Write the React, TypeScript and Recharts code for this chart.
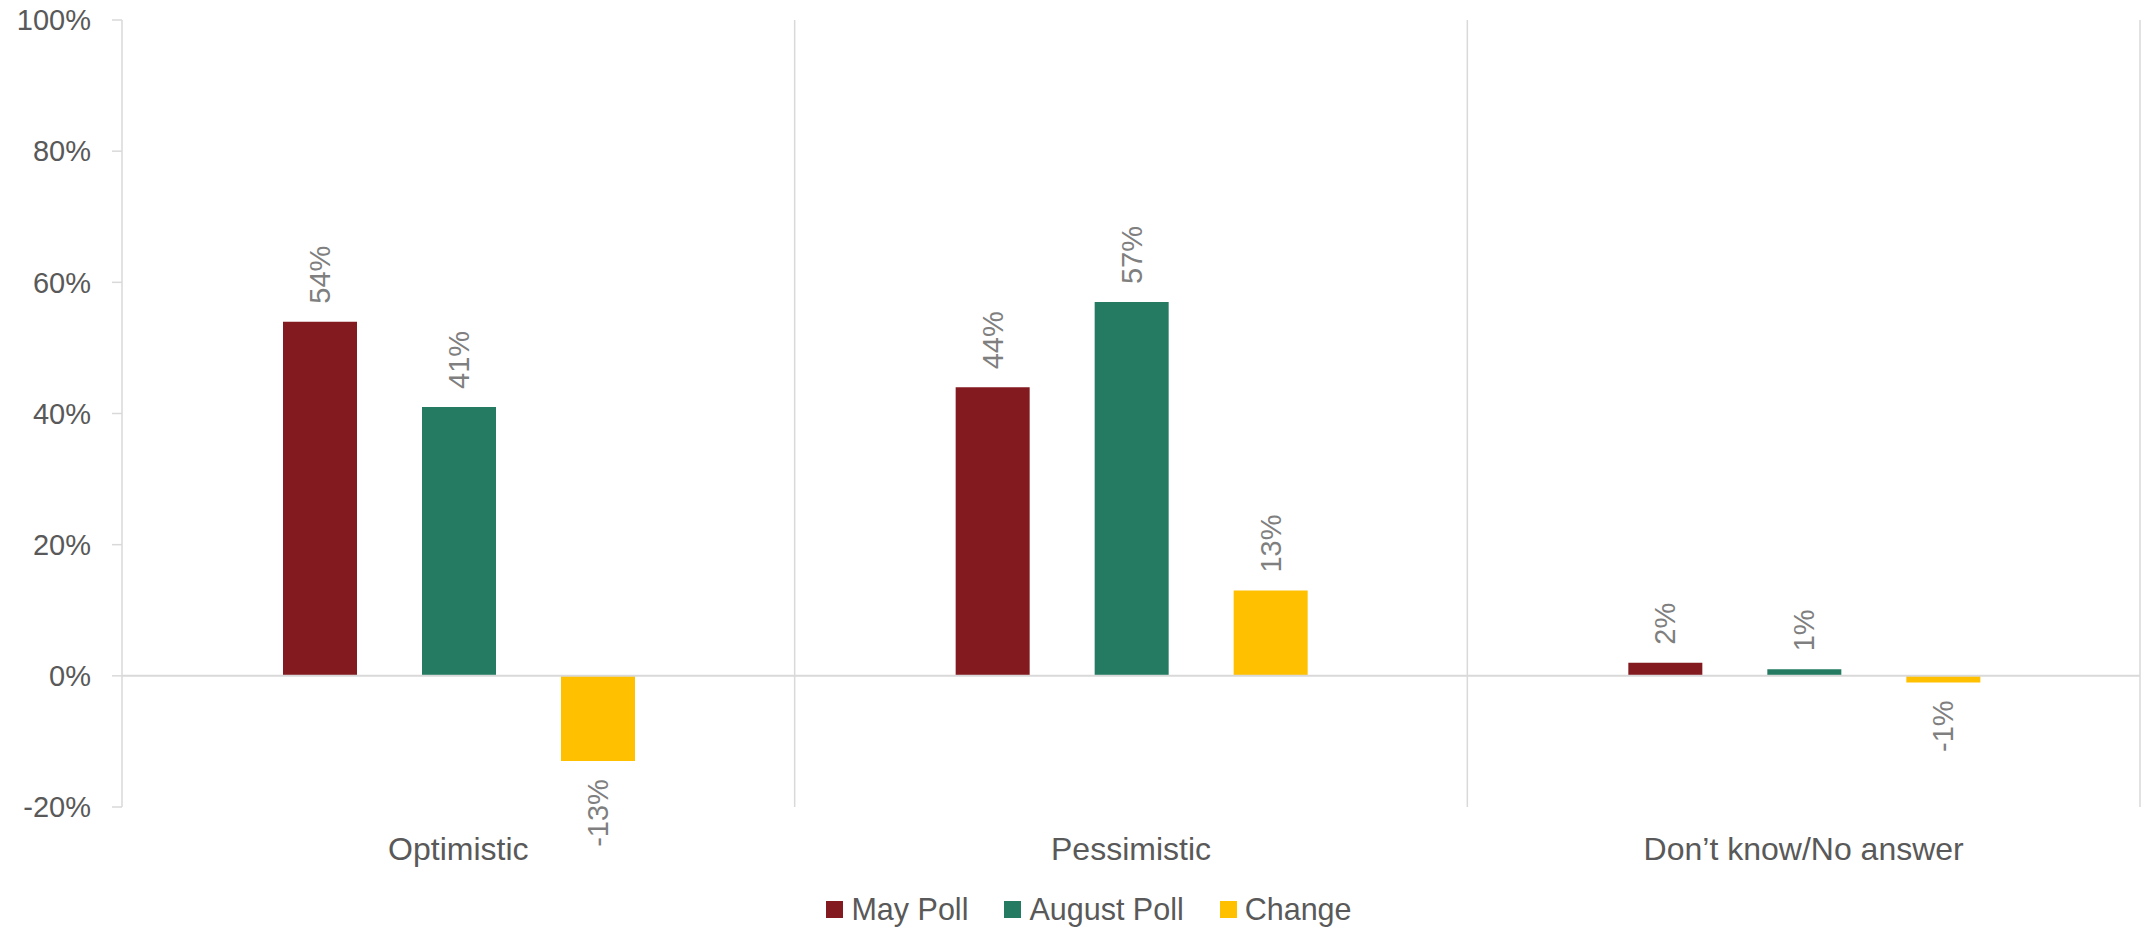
import React from 'react';
import {
  BarChart,
  Bar,
  XAxis,
  YAxis,
  CartesianGrid,
  ReferenceLine,
  Legend,
  LabelList
} from 'recharts';

// Values
const categories = ['Optimistic', 'Pessimistic', 'Don\u2019t know/No answer'];
const mayPoll = [0.54, 0.44, 0.02];
const augustPoll = [0.41, 0.57, 0.01];
const change = [-0.13, 0.13, -0.01];
const yTicks = [-0.2, 0, 0.2, 0.4, 0.6, 0.8, 1];

const seriesMeta = [
  { key: 'may', name: 'May Poll', color: '#831A1F' },
  { key: 'august', name: 'August Poll', color: '#257A62' },
  { key: 'change', name: 'Change', color: '#FFC000' }
];

const chartData = categories.map((name, i) => ({
  name,
  may: mayPoll[i],
  august: augustPoll[i],
  change: change[i]
}));

const FONT = '"Liberation Sans", Arial, sans-serif';
const AXIS_TEXT = '#595959';
const LABEL_TEXT = '#7F7F7F';
const GRID = '#D9D9D9';

const pct = (v: number) => `${Math.round(v * 100)}%`;

// Rotated value label: above positive bars, below negative ones
const BarValueLabel = (props: any) => {
  const { x, y, width, height, value } = props;
  if (value == null) return null;
  const cx = x + width / 2;
  const top = Math.min(y, y + height);
  const bottom = Math.max(y, y + height);
  const gap = 18;
  const positive = value >= 0;
  const ty = positive ? top - gap : bottom + gap;
  return (
    <text
      x={cx}
      y={ty}
      transform={`rotate(-90, ${cx}, ${ty})`}
      textAnchor={positive ? 'start' : 'end'}
      dominantBaseline="central"
      fill={LABEL_TEXT}
      fontSize={29}
      fontFamily={FONT}
    >
      {pct(value)}
    </text>
  );
};

const renderLegend = () => (
  <div
    style={{
      display: 'flex',
      justifyContent: 'center',
      alignItems: 'center',
      height: 36,
      paddingLeft: 38,
      fontFamily: FONT,
      fontSize: 30.5,
      color: AXIS_TEXT
    }}
  >
    {seriesMeta.map((s, i) => (
      <div
        key={s.key}
        style={{ display: 'flex', alignItems: 'center', marginLeft: i === 0 ? 0 : 36 }}
      >
        <div style={{ width: 17, height: 17, background: s.color, marginRight: 8 }} />
        <span>{s.name}</span>
      </div>
    ))}
  </div>
);

// vertical separators at the right edge of each category band
const bandEdges = ({ offset }: any) =>
  categories.map((_, i) => offset.left + (offset.width / categories.length) * (i + 1));

export default function App() {
  return (
    <div style={{ position: 'absolute', left: 0, top: 0, background: '#fff' }}>
      <BarChart
        width={2144}
        height={927}
        data={chartData}
        margin={{ top: 20, right: 4, left: 0, bottom: 0 }}
        barCategoryGap={161}
        barGap={65}
      >
        <CartesianGrid
          horizontal={false}
          vertical
          stroke={GRID}
          strokeWidth={1.5}
          verticalCoordinatesGenerator={bandEdges}
        />
        <XAxis
          dataKey="name"
          axisLine={false}
          tickLine={false}
          tickSize={0}
          tickMargin={30}
          height={84}
          interval={0}
          tick={{ fill: AXIS_TEXT, fontSize: 32, fontFamily: FONT }}
        />
        <YAxis
          width={122}
          domain={[-0.2, 1]}
          ticks={yTicks}
          tickFormatter={pct}
          axisLine={{ stroke: GRID, strokeWidth: 1.5 }}
          tickLine={{ stroke: GRID, strokeWidth: 1.5 }}
          tickSize={10}
          tickMargin={21}
          tick={{ fill: AXIS_TEXT, fontSize: 29, fontFamily: FONT }}
        />
        <ReferenceLine y={0} stroke={GRID} strokeWidth={2} />
        {seriesMeta.map((s) => (
          <Bar
            key={s.key}
            dataKey={s.key}
            name={s.name}
            fill={s.color}
            isAnimationActive={false}
          >
            <LabelList dataKey={s.key} content={BarValueLabel} />
          </Bar>
        ))}
        <Legend verticalAlign="bottom" align="center" height={36} content={renderLegend} />
      </BarChart>
    </div>
  );
}
